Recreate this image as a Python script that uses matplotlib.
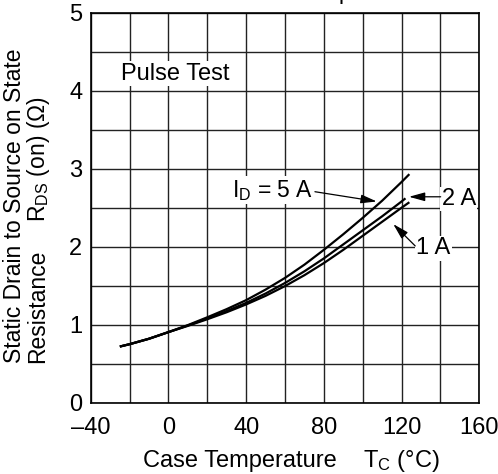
import matplotlib
matplotlib.use("Agg")
import matplotlib.pyplot as plt
from matplotlib.ticker import MultipleLocator, FixedLocator

plt.rcParams['font.family'] = ['Liberation Sans', 'DejaVu Sans']
plt.rcParams['mathtext.fontset'] = 'custom'
plt.rcParams['mathtext.rm'] = 'Liberation Sans'
plt.rcParams['mathtext.it'] = 'Liberation Sans'

# Data
temp_5a = [-25, -20, -10, 0, 10, 20, 30, 40, 50, 60, 70, 80, 90, 100, 110, 120, 124]
rds_5a = [0.72, 0.75, 0.82, 0.905, 0.995, 1.095, 1.20, 1.315, 1.45, 1.60, 1.77, 1.96, 2.16, 2.37, 2.59, 2.83, 2.93]
temp_2a = [-25, -20, -10, 0, 10, 20, 30, 40, 50, 60, 70, 80, 90, 100, 110, 120, 122]
rds_2a = [0.72, 0.75, 0.82, 0.905, 0.99, 1.08, 1.175, 1.28, 1.40, 1.535, 1.685, 1.85, 2.03, 2.21, 2.39, 2.58, 2.62]
temp_1a = [-25, -20, -10, 0, 10, 20, 30, 40, 50, 60, 70, 80, 90, 100, 110, 120, 124]
rds_1a = [0.72, 0.75, 0.82, 0.905, 0.985, 1.07, 1.16, 1.26, 1.37, 1.495, 1.635, 1.79, 1.96, 2.14, 2.32, 2.50, 2.57]

x_ticks = [-40, 0, 40, 80, 120, 160]
x_tick_labels = ['\u201340', '0', '40', '80', '120', '160']
y_ticks = [0, 1, 2, 3, 4, 5]
y_tick_labels = ['0', '1', '2', '3', '4', '5']

FS = 17

fig = plt.figure(figsize=(4.98, 4.74), dpi=100)
ax = fig.add_axes([0.1821, 0.1504, 0.7804, 0.8228])
ax.set_xlim(-40, 160)
ax.set_ylim(0, 5)

ax.xaxis.set_major_locator(FixedLocator(x_ticks))
ax.set_xticklabels(x_tick_labels)
ax.yaxis.set_major_locator(FixedLocator(y_ticks))
ax.set_yticklabels(y_tick_labels)
ax.xaxis.set_minor_locator(MultipleLocator(20))
ax.yaxis.set_minor_locator(MultipleLocator(0.5))
ax.tick_params(which='both', length=0, labelsize=FS)
ax.tick_params(axis='x', pad=10)
ax.tick_params(axis='y', pad=6)
ax.grid(which='both', color='#222222', linewidth=1.0)
ax.set_axisbelow(True)
for s in ax.spines.values():
    s.set_linewidth(1.2)
    s.set_color('black')

for t, r in [(temp_5a, rds_5a), (temp_2a, rds_2a), (temp_1a, rds_1a)]:
    ax.plot(t, r, color='black', linewidth=1.6, solid_capstyle='butt', zorder=3)

bb = dict(facecolor='white', edgecolor='none', pad=1.0)
ax.text(-24.4, 4.14, 'Pulse Test', fontsize=FS, va='baseline', ha='left', bbox=bb, zorder=4)

ax.text(32.7, 2.64, 'I$_{\\mathregular{D}}$ = 5 A', fontsize=16.5, va='baseline', ha='left', bbox=bb, zorder=4)
ax.text(140.6, 2.535, '2 A', fontsize=FS, va='baseline', ha='left', bbox=bb, zorder=4)
ax.text(127.4, 1.905, '1 A', fontsize=FS, va='baseline', ha='left', bbox=bb, zorder=4)

ap = dict(arrowstyle='-|>,head_length=0.8,head_width=0.22', color='black', lw=0.9,
          shrinkA=0, shrinkB=0, mutation_scale=12)
ax.annotate('', xy=(107.2, 2.58), xytext=(75.4, 2.705), arrowprops=ap, zorder=5)
ax.annotate('', xy=(123.8, 2.64), xytext=(140.1, 2.64), arrowprops=ap, zorder=5)
ax.annotate('', xy=(115.7, 2.29), xytext=(127.0, 2.01), arrowprops=ap, zorder=5)

# axis labels
fig.text(143 / 498, 1 - 461 / 474, 'Case Temperature', fontsize=FS, ha='left', va='center')
fig.text(363 / 498, 1 - 461 / 474, 'T$_{\\mathregular{C}}$ (\u00b0C)', fontsize=FS, ha='left', va='center')

fig.text(15 / 498, 1 - 363 / 474, 'Static Drain to Source on State', fontsize=16.5,
         rotation=90, ha='center', va='bottom')
fig.text(38 / 498, 1 - 363 / 474, 'Resistance', fontsize=16.5,
         rotation=90, ha='center', va='bottom')
fig.text(38 / 498, 1 - 222 / 474, 'R$_{\\mathregular{DS}}$ (on) (\u03a9)', fontsize=16.5,
         rotation=90, ha='center', va='bottom')

# partially visible title (cut off at top)
fig.text(258 / 498, 1 + 1.5 / 474, 'vs. Temperature', fontsize=FS, ha='left', va='baseline')

fig.savefig('out.png', dpi=100)
